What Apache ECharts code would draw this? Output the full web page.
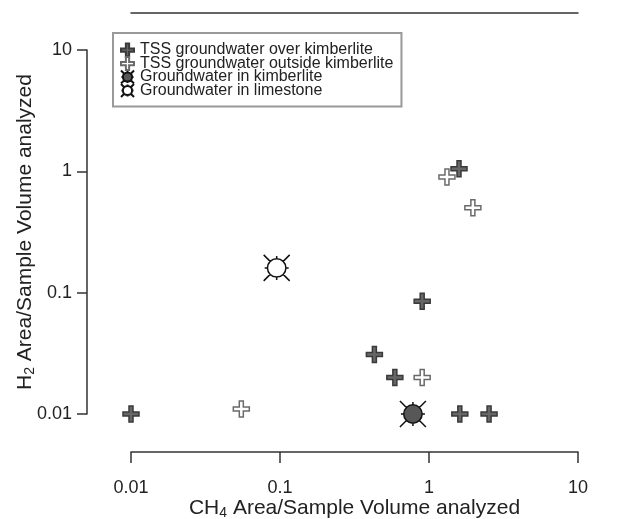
<!DOCTYPE html>
<html>
<head>
<meta charset="utf-8">
<script src="https://cdn.jsdelivr.net/npm/echarts@6/dist/echarts.min.js"></script>
<style>
  html, body { margin: 0; padding: 0; background: #fff; }
  #chart { width: 621px; height: 519px; }
</style>
</head>
<body>
<div id="chart"></div>
<script>
// Series names as shown in the legend
const seriesNames = [
  'TSS groundwater over kimberlite',
  'TSS groundwater outside kimberlite',
  'Groundwater in kimberlite',
  'Groundwater in limestone'
];

// [CH4, H2] pairs (area / sample volume analyzed)
const overKimberlite = [[0.01, 0.01], [1.59, 1.05], [0.90, 0.085], [0.43, 0.031], [0.59, 0.020], [1.61, 0.01], [2.53, 0.01]];
const outsideKimberlite = [[1.32, 0.90], [1.97, 0.50], [0.055, 0.011], [0.90, 0.020]];
const inKimberlite = [[0.78, 0.01]];
const inLimestone = [[0.095, 0.16]];

// Decade tick labels, 0.01 .. 10
const xTickLabels = ['0.01', '0.1', '1', '10'];
const yTickLabels = ['0.01', '0.1', '1', '10'];

const FONT = "'Liberation Sans', Arial, sans-serif";
const INK = '#222';
const AXIS = '#333';

// Plus-shaped marker
const crossPath = 'path://M6,0 H10 V6 H16 V10 H10 V16 H6 V10 H0 V6 H6 Z';
// Circle with rays (long diagonals, short stubs)
const sunPath = 'path://M22.2,13 A9.2,9.2 0 1 1 3.8,13 A9.2,9.2 0 1 1 22.2,13 Z' +
  ' M6.5,6.5 L0,0 M19.5,6.5 L26,0 M6.5,19.5 L0,26 M19.5,19.5 L26,26' +
  ' M13,3.8 L13,1 M13,22.2 L13,25 M3.8,13 L1,13 M22.2,13 L25,13';

const decadeLabel = labels => v => labels[Math.round(Math.log10(v)) + 2];

const chart = echarts.init(document.getElementById('chart'), null, { renderer: 'canvas' });

chart.setOption({
  backgroundColor: '#fff',
  animation: false,
  textStyle: { fontFamily: FONT, color: INK },
  grid: { left: 131, right: 43, top: 50, bottom: 105, outerBoundsMode: 'none', containLabel: false },
  legend: {
    orient: 'vertical',
    left: 113,
    top: 33,
    padding: [9, 8, 8, 7],
    itemGap: -2.5,
    itemWidth: 15,
    itemHeight: 13,
    borderColor: '#999',
    borderWidth: 2,
    textStyle: { fontFamily: FONT, fontSize: 16, color: INK, lineHeight: 13.5 },
    data: seriesNames
  },
  xAxis: [{
    type: 'log',
    logBase: 10,
    min: 0.01,
    max: 10,
    offset: 38,
    name: 'CH{sub|4} Area/Sample Volume analyzed',
    nameLocation: 'middle',
    nameMoveOverlap: false,
    nameGap: 44,
    nameTextStyle: {
      fontFamily: FONT, fontSize: 21, color: INK,
      rich: { sub: { fontFamily: FONT, fontSize: 14, color: INK, padding: [10, 0, 0, 0] } }
    },
    axisLine: { show: true, lineStyle: { color: AXIS, width: 1.5 } },
    axisTick: { show: true, length: 11, lineStyle: { color: AXIS, width: 1.5 } },
    minorTick: { show: false },
    axisLabel: { margin: 27, fontFamily: FONT, fontSize: 18, color: INK, formatter: decadeLabel(xTickLabels) },
    splitLine: { show: false }
  }, {
    // frame line along the top of the plot
    type: 'log',
    logBase: 10,
    min: 0.01,
    max: 10,
    position: 'top',
    offset: 37,
    axisLine: { show: true, lineStyle: { color: AXIS, width: 1.5 } },
    axisTick: { show: false },
    axisLabel: { show: false },
    splitLine: { show: false }
  }],
  yAxis: {
    type: 'log',
    logBase: 10,
    min: 0.01,
    max: 10,
    offset: 44,
    name: 'H{sub|2} Area/Sample Volume analyzed',
    nameLocation: 'middle',
    nameMoveOverlap: false,
    nameGap: 50,
    nameTextStyle: {
      fontFamily: FONT, fontSize: 21, color: INK,
      rich: { sub: { fontFamily: FONT, fontSize: 14, color: INK, padding: [10, 0, 0, 0] } }
    },
    axisLine: { show: true, lineStyle: { color: AXIS, width: 1.5 } },
    axisTick: { show: true, length: 10, lineStyle: { color: AXIS, width: 1.5 } },
    minorTick: { show: false },
    axisLabel: { margin: 15, fontFamily: FONT, fontSize: 18, color: INK, formatter: decadeLabel(yTickLabels) },
    splitLine: { show: false }
  },
  series: [{
    name: seriesNames[0],
    type: 'scatter',
    data: overKimberlite,
    symbol: crossPath,
    symbolSize: 16,
    symbolKeepAspect: true,
    itemStyle: { color: '#676767', borderColor: '#3a3a3a', borderWidth: 1.5, opacity: 1 },
    z: 3
  }, {
    name: seriesNames[1],
    type: 'scatter',
    data: outsideKimberlite,
    symbol: crossPath,
    symbolSize: 16,
    symbolKeepAspect: true,
    itemStyle: { color: '#ffffff', borderColor: '#6a6a6a', borderWidth: 1.5, opacity: 1 },
    z: 4
  }, {
    name: seriesNames[2],
    type: 'scatter',
    data: inKimberlite,
    symbol: sunPath,
    symbolSize: 26,
    symbolKeepAspect: true,
    itemStyle: { color: '#575757', borderColor: '#111', borderWidth: 1.5, opacity: 1 },
    z: 5
  }, {
    name: seriesNames[3],
    type: 'scatter',
    data: inLimestone,
    symbol: sunPath,
    symbolSize: 26,
    symbolKeepAspect: true,
    itemStyle: { color: '#ffffff', borderColor: '#111', borderWidth: 1.5, opacity: 1 },
    z: 5
  }]
});
</script>
</body>
</html>
